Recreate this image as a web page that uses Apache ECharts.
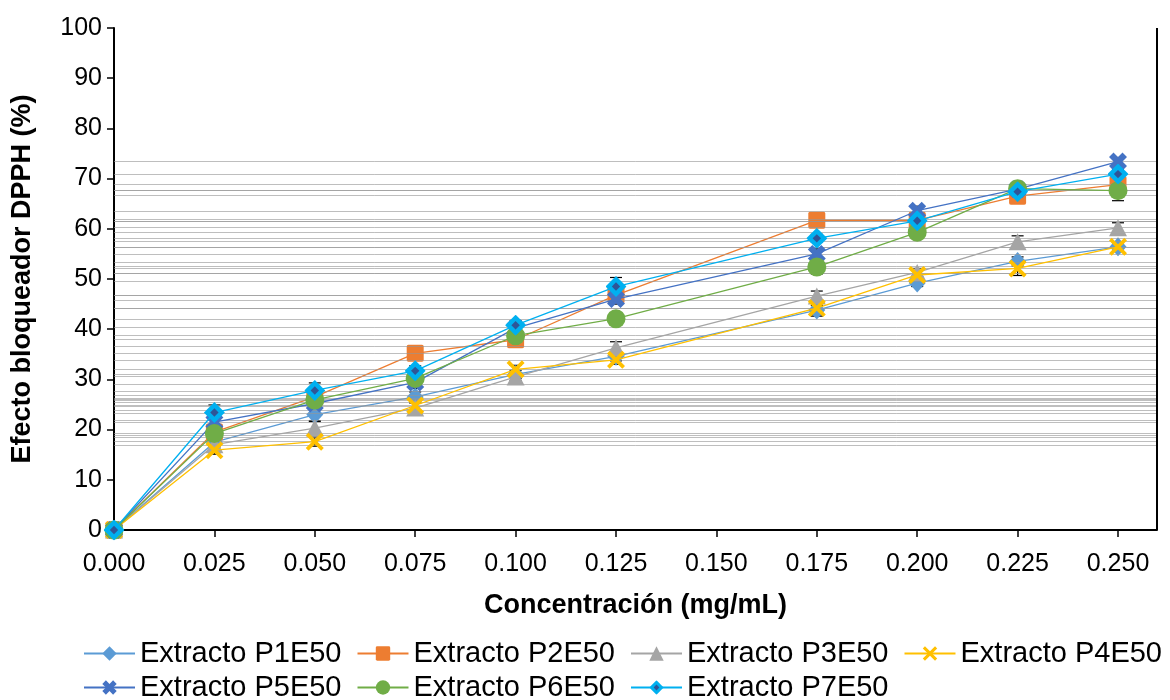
<!DOCTYPE html>
<html>
<head>
<meta charset="utf-8">
<script src="https://cdn.jsdelivr.net/npm/echarts@6/dist/echarts.min.js"></script>
<style>
  html, body { margin: 0; padding: 0; background: #fff; }
  #chart { width: 1170px; height: 700px; }
</style>
</head>
<body>
<div id="chart"></div>
<script>
// Concentration (mg/mL) of each measurement
const concentrations = [0, 0.025, 0.05, 0.075, 0.1, 0.125, 0.175, 0.2, 0.225, 0.25];

// Tick positions on the concentration axis
const xTicks = [0, 0.025, 0.05, 0.075, 0.1, 0.125, 0.15, 0.175, 0.2, 0.225, 0.25];

// DPPH scavenging effect (%) per extract
const p1e50 = [0, 17.5, 23.0, 26.5, 31.0, 34.6, 43.8, 49.2, 53.5, 56.4];
const p2e50 = [0, 19.5, 26.5, 35.2, 37.9, 46.8, 61.7, 61.7, 66.5, 68.8];
const p3e50 = [0, 17.0, 20.3, 24.3, 30.5, 36.3, 46.6, 51.3, 57.4, 60.2];
const p4e50 = [0, 15.9, 17.6, 24.8, 32.0, 33.9, 44.2, 50.8, 52.1, 56.4];
const p5e50 = [0, 21.5, 25.2, 29.4, 40.2, 46.0, 55.0, 63.6, 67.9, 73.4];
const p6e50 = [0, 19.2, 25.9, 30.2, 38.7, 42.1, 52.4, 59.3, 68.0, 67.6];
const p7e50 = [0, 23.4, 27.8, 31.7, 40.8, 48.5, 58.1, 61.6, 67.4, 70.9];

// Standard deviations (error bars) per extract
const sdP1 = [0, 1.0, 1.2, 1.0, 0.8, 0.9, 0.9, 0.7, 0.9, 0.8];
const sdP2 = [0, 1.2, 1.0, 0.8, 0.9, 1.0, 0.6, 0.8, 0.7, 0.9];
const sdP3 = [0, 1.0, 1.3, 1.0, 0.7, 1.2, 1.0, 0.8, 1.2, 1.0];
const sdP4 = [0, 0.8, 0.9, 0.9, 0.8, 0.9, 1.6, 0.9, 1.4, 0.9];
const sdP5 = [0, 1.3, 1.2, 1.2, 0.8, 1.0, 1.0, 0.9, 0.6, 0.8];
const sdP6 = [0, 1.2, 1.2, 1.0, 0.9, 0.8, 1.4, 0.9, 0.7, 2.0];
const sdP7 = [0, 1.5, 1.5, 1.0, 0.9, 1.8, 0.8, 0.9, 0.7, 0.9];

// Horizontal reference levels (%) drawn across the plot
const refLevels = [73.4, 70.9, 68.9, 67.7, 67.6, 66.7, 63.5, 61.9, 61.6, 61.6, 60.3, 59.3, 58.1, 57.6,
  56.4, 56.4, 54.9, 53.3, 52.5, 52.1, 51.1, 51.1, 49.6, 46.8, 46.8, 45.8, 44.1, 44.1, 42.0, 40.4,
  38.8, 38.0, 36.7, 35.2, 33.9, 32.0, 31.0, 30.7, 29.1, 27.6, 26.9, 26.2, 26.1, 25.8, 25.4, 24.9,
  24.6, 23.9, 23.2, 21.9, 21.4, 19.3, 18.9, 18.5, 17.6, 16.9];

const seriesNames = ['Extracto P1E50', 'Extracto P2E50', 'Extracto P3E50', 'Extracto P4E50',
  'Extracto P5E50', 'Extracto P6E50', 'Extracto P7E50'];
const seriesValues = [p1e50, p2e50, p3e50, p4e50, p5e50, p6e50, p7e50];
const seriesErrors = [sdP1, sdP2, sdP3, sdP4, sdP5, sdP6, sdP7];
const colors = ['#5B9BD5', '#ED7D31', '#A5A5A5', '#FFC000', '#4472C4', '#70AD47', '#00B0F0'];

const FONT = "Arial, 'Liberation Sans', sans-serif";

// plot area geometry
const PLOT_LEFT = 114, PLOT_RIGHT = 1157, PLOT_TOP = 28, PLOT_BOTTOM = 530;
const LAST_TICK_X = 1118;
const xMax = 0.25 * (PLOT_RIGHT - PLOT_LEFT) / (LAST_TICK_X - PLOT_LEFT);

function svgSymbol(svg) {
  return 'image://data:image/svg+xml;charset=utf-8,' + encodeURIComponent(svg);
}
const diamondInner = svgSymbol(
  "<svg xmlns='http://www.w3.org/2000/svg' width='40' height='40' viewBox='0 0 40 40'>" +
  "<path d='M20 0 L40 20 L20 40 L0 20 Z' fill='#00B0F0'/>" +
  "<path d='M20 12 L28 20 L20 28 L12 20 Z' fill='#2F5597'/></svg>");
const thinX = 'path://M0,3 L3,0 L10,7 L17,0 L20,3 L13,10 L20,17 L17,20 L10,13 L3,20 L0,17 L7,10 Z';
const boldX = 'path://M0,5 L5,0 L10,5 L15,0 L20,5 L15,10 L20,15 L15,20 L10,15 L5,20 L0,15 L5,10 Z';

const symbols = [
  { symbol: 'diamond', size: [17, 19] },
  { symbol: 'path://M2,0 L18,0 Q20,0 20,2 L20,18 Q20,20 18,20 L2,20 Q0,20 0,18 L0,2 Q0,0 2,0 Z', size: 17 },
  { symbol: 'triangle', size: [18, 17] },
  { symbol: thinX, size: 18 },
  { symbol: boldX, size: 18 },
  { symbol: 'circle', size: 19 },
  { symbol: diamondInner, size: 21 }
];

const series = [];

// reference lines behind everything
series.push({
  type: 'line',
  name: 'ref',
  data: [],
  silent: true,
  z: 1,
  markLine: {
    silent: true,
    symbol: 'none',
    label: { show: false },
    animation: false,
    lineStyle: { color: 'rgba(150,150,150,0.62)', width: 1, type: 'solid' },
    data: refLevels.map(v => ({ yAxis: v }))
  }
});

// error bars, drawn beneath markers
seriesValues.forEach((vals, si) => {
  series.push({
    type: 'custom',
    name: 'err' + si,
    silent: true,
    z: 2,
    data: concentrations.map((c, i) => [c, vals[i], seriesErrors[si][i]]),
    renderItem: function (params, api) {
      const x = api.value(0), y = api.value(1), e = api.value(2);
      if (!e) return null;
      const top = api.coord([x, y + e]);
      const bot = api.coord([x, y - e]);
      const hw = 6;
      const st = { stroke: '#000', lineWidth: 1.2 };
      return {
        type: 'group',
        children: [
          { type: 'line', shape: { x1: top[0], y1: top[1], x2: bot[0], y2: bot[1] }, style: st },
          { type: 'line', shape: { x1: top[0] - hw, y1: top[1], x2: top[0] + hw, y2: top[1] }, style: st },
          { type: 'line', shape: { x1: bot[0] - hw, y1: bot[1], x2: bot[0] + hw, y2: bot[1] }, style: st }
        ]
      };
    }
  });
});

seriesValues.forEach((vals, si) => {
  series.push({
    type: 'line',
    name: seriesNames[si],
    z: 3 + si,
    data: concentrations.map((c, i) => [c, vals[i]]),
    symbol: symbols[si].symbol,
    symbolSize: symbols[si].size,
    lineStyle: { color: colors[si], width: 1.3 },
    itemStyle: { color: colors[si] },
    emphasis: { disabled: true }
  });
});

const legendText = { fontSize: 29, color: '#000', fontFamily: FONT };

const option = {
  animation: false,
  backgroundColor: '#fff',
  textStyle: { fontFamily: FONT },
  grid: {
    left: PLOT_LEFT, right: 1170 - PLOT_RIGHT, top: PLOT_TOP, bottom: 700 - PLOT_BOTTOM,
    containLabel: false
  },
  legend: [
    {
      data: seriesNames.slice(0, 4),
      left: 83, top: 639, width: 1087, padding: 0,
      itemWidth: 51, itemHeight: 18, itemGap: 15,
      textStyle: legendText,
      selectedMode: false
    },
    {
      data: seriesNames.slice(4),
      left: 83, top: 673, width: 1087, padding: 0,
      itemWidth: 51, itemHeight: 18, itemGap: 15,
      textStyle: legendText,
      selectedMode: false
    }
  ],
  graphic: [
    {
      type: 'line',
      silent: true,
      z: 10,
      shape: { x1: PLOT_RIGHT, y1: PLOT_TOP, x2: PLOT_RIGHT, y2: PLOT_BOTTOM },
      style: { stroke: '#000', lineWidth: 2 }
    }
  ],
  xAxis: {
    type: 'value',
    min: 0, max: xMax,
    name: 'Concentración (mg/mL)',
    nameLocation: 'middle',
    nameGap: 62,
    nameTextStyle: { fontSize: 27, fontWeight: 'bold', color: '#000', fontFamily: FONT },
    axisLine: { show: true, lineStyle: { color: '#000', width: 2 } },
    axisTick: { show: true, length: 7, customValues: xTicks, lineStyle: { color: '#000', width: 1.5 } },
    axisLabel: {
      fontSize: 25, color: '#000', margin: 22,
      customValues: xTicks,
      formatter: v => v.toFixed(3)
    },
    splitLine: { show: false }
  },
  yAxis: {
    type: 'value',
    min: 0, max: 100, interval: 10,
    name: 'Efecto bloqueador DPPH (%)',
    nameLocation: 'middle',
    nameRotate: 90,
    nameGap: 78,
    nameTextStyle: { fontSize: 27, fontWeight: 'bold', color: '#000', fontFamily: FONT },
    axisLine: { show: true, lineStyle: { color: '#000', width: 2 } },
    axisTick: { show: true, length: 7, lineStyle: { color: '#000', width: 1.5 } },
    axisLabel: { fontSize: 25, color: '#000', margin: 12 },
    splitLine: { show: false }
  },
  series: series
};

const chart = echarts.init(document.getElementById('chart'), null, { renderer: 'canvas' });
chart.setOption(option);
</script>
</body>
</html>
